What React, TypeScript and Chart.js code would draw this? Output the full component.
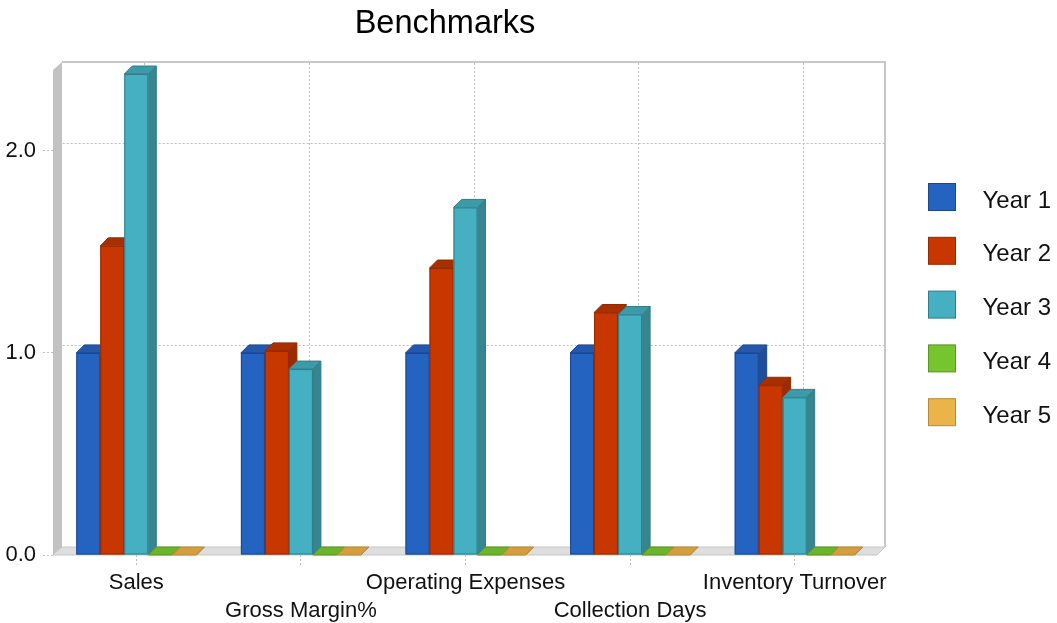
import React, { useEffect, useRef } from 'react';
import { Chart, registerables } from 'chart.js';

Chart.register(...registerables);

const chartTitle = 'Benchmarks';
const categories = ['Sales', 'Gross Margin%', 'Operating Expenses', 'Collection Days', 'Inventory Turnover'];
const seriesNames = ['Year 1', 'Year 2', 'Year 3', 'Year 4', 'Year 5'];
const year1 = [1.0, 1.0, 1.0, 1.0, 1.0];
const year2 = [1.53, 1.01, 1.42, 1.2, 0.84];
const year3 = [2.38, 0.92, 1.72, 1.19, 0.78];
const year4 = [0, 0, 0, 0, 0];
const year5 = [0, 0, 0, 0, 0];
const yTickValues = [0, 1, 2];
const yMax = 2.4;

const seriesValues = [year1, year2, year3, year4, year5];

const palette = [
  { front: '#2563c0', top: '#2358ad', side: '#1e4d99', border: '#1b4690' },
  { front: '#c83700', top: '#a83000', side: '#9c2c00', border: '#932a00' },
  { front: '#45b0c2', top: '#3d9ba9', side: '#368590', border: '#2f7d88' },
  { front: '#76c42e', top: '#6ab52a', side: '#5a9a20', border: '#5a9520' },
  { front: '#ebb44b', top: '#d49d3e', side: '#b8893a', border: '#b88a35' },
];

const FONT = '"Liberation Sans", Arial, Helvetica, sans-serif';
const DEPTH = 8;

function poly(ctx: CanvasRenderingContext2D, pts: number[][]) {
  ctx.beginPath();
  ctx.moveTo(pts[0][0], pts[0][1]);
  for (let i = 1; i < pts.length; i++) ctx.lineTo(pts[i][0], pts[i][1]);
  ctx.closePath();
}

const threeDPlugin = {
  id: 'threeD',
  beforeDatasetDraw() {
    return false;
  },
  beforeDatasetsDraw(chart: any) {
    const { ctx, chartArea: a, scales } = chart;
    const xs = scales.x;
    const ys = scales.y;
    const d = DEPTH;
    ctx.save();
    // left wall
    ctx.fillStyle = '#c2c2c2';
    poly(ctx, [[a.left - 1, a.bottom], [a.left - 1, a.top], [a.left + d, a.top - d], [a.left + d, a.bottom - d]]);
    ctx.fill();
    // floor
    ctx.fillStyle = '#dedede';
    ctx.strokeStyle = '#c6c6c6';
    ctx.lineWidth = 1;
    poly(ctx, [[a.left - 1, a.bottom], [a.right, a.bottom], [a.right + d, a.bottom - d], [a.left + d, a.bottom - d]]);
    ctx.fill();
    ctx.stroke();
    // back wall edges
    ctx.strokeStyle = '#c8c8c8';
    ctx.lineWidth = 2;
    ctx.beginPath();
    ctx.moveTo(a.left + d, a.top - d);
    ctx.lineTo(a.right + d, a.top - d);
    ctx.lineTo(a.right + d, a.bottom - d);
    ctx.stroke();
    // dotted grid
    ctx.strokeStyle = '#bdbdbd';
    ctx.lineWidth = 1;
    ctx.setLineDash([2, 2]);
    yTickValues.forEach((v) => {
      if (v <= 0) return;
      const py = Math.round(ys.getPixelForValue(v)) + 0.5;
      ctx.beginPath();
      ctx.moveTo(a.left, py);
      ctx.lineTo(a.left + d, py - d);
      ctx.lineTo(a.right + d, py - d);
      ctx.stroke();
    });
    categories.forEach((_, j) => {
      const px = Math.round(xs.getPixelForValue(j)) + 0.5;
      ctx.beginPath();
      ctx.moveTo(px + d, a.top - d + 1);
      ctx.lineTo(px + d, a.bottom - d);
      ctx.stroke();
    });
    ctx.restore();
  },
  afterDatasetsDraw(chart: any) {
    const { ctx } = chart;
    const d = DEPTH;
    ctx.save();
    ctx.lineWidth = 1;
    ctx.lineJoin = 'miter';
    const n = chart.data.datasets.length;
    for (let j = 0; j < categories.length; j++) {
      for (let i = 0; i < n; i++) {
        const meta = chart.getDatasetMeta(i);
        const el = meta.data[j];
        if (!el) continue;
        const p = el.getProps(['x', 'y', 'base', 'width'], true);
        const c = palette[i];
        const left = p.x - p.width / 2;
        const right = p.x + p.width / 2;
        const top = Math.min(p.y, p.base);
        const bottom = Math.max(p.y, p.base);
        ctx.strokeStyle = c.border;
        // side face
        ctx.fillStyle = c.side;
        poly(ctx, [[right, top], [right + d, top - d], [right + d, bottom - d], [right, bottom]]);
        ctx.fill();
        ctx.stroke();
        // top face
        ctx.fillStyle = c.top;
        poly(ctx, [[left, top], [left + d, top - d], [right + d, top - d], [right, top]]);
        ctx.fill();
        ctx.stroke();
        // front face
        if (bottom - top > 0.5) {
          ctx.fillStyle = c.front;
          ctx.fillRect(left, top, right - left, bottom - top);
          ctx.strokeRect(left + 0.5, top + 0.5, right - left - 1, bottom - top - 1);
        }
      }
    }
    ctx.restore();
  },
  afterDraw(chart: any) {
    const { ctx, chartArea: a } = chart;
    ctx.save();
    // title
    ctx.fillStyle = '#000';
    ctx.font = `32.5px ${FONT}`;
    ctx.textAlign = 'center';
    ctx.textBaseline = 'alphabetic';
    ctx.fillText(chartTitle, 445, 33);
    // legend
    ctx.font = `24px ${FONT}`;
    ctx.textAlign = 'left';
    chart.data.datasets.forEach((ds: any, i: number) => {
      const c = palette[i];
      const bx = a.right + 51.5;
      const by = 183.5 + i * 53.8;
      ctx.fillStyle = c.front;
      ctx.fillRect(bx, by, 27, 27);
      ctx.strokeStyle = c.border;
      ctx.lineWidth = 1;
      ctx.strokeRect(bx, by, 27, 27);
      ctx.fillStyle = '#111';
      ctx.fillText(ds.label, bx + 54, by + 24);
    });
    ctx.restore();
  },
};

export default function App() {
  const ref = useRef<HTMLCanvasElement | null>(null);
  useEffect(() => {
    if (!ref.current) return;
    Chart.defaults.font.family = FONT;
    const chart = new Chart(ref.current, {
      type: 'bar',
      data: {
        labels: categories,
        datasets: seriesNames.map((name, i) => ({
          label: name,
          data: seriesValues[i],
          backgroundColor: palette[i].front,
          borderColor: palette[i].border,
          categoryPercentage: 0.729,
          barPercentage: 1,
        })),
      },
      options: {
        responsive: false,
        animation: false,
        layout: { padding: { top: 70, right: 180, left: 0, bottom: 0 } },
        plugins: {
          legend: { display: false },
          title: { display: false },
          tooltip: { enabled: false },
        },
        scales: {
          x: {
            offset: true,
            grid: {
              offset: false,
              drawOnChartArea: false,
              drawTicks: true,
              tickLength: 12,
              tickColor: '#bdbdbd',
              tickBorderDash: [2, 2],
            },
            border: { display: false },
            ticks: {
              autoSkip: false,
              maxRotation: 0,
              minRotation: 0,
              padding: 2,
              color: '#111',
              font: { size: 22, lineHeight: 1.27 },
              callback: (_v: any, idx: number) => (idx % 2 === 1 ? ['', categories[idx]] : categories[idx]),
            },
            afterFit: (scale: any) => {
              scale.height = 68;
            },
          },
          y: {
            min: 0,
            max: yMax,
            grid: {
              drawOnChartArea: false,
              drawTicks: true,
              tickLength: 11,
              tickColor: '#bdbdbd',
              tickBorderDash: [2, 2],
            },
            border: { display: false },
            ticks: {
              stepSize: 1,
              includeBounds: false,
              padding: 7,
              color: '#111',
              font: { size: 22 },
              callback: (v: any) => Number(v).toFixed(1),
            },
            afterFit: (scale: any) => {
              scale.width = 54;
            },
          },
        },
      },
      plugins: [threeDPlugin],
    });
    return () => chart.destroy();
  }, []);
  return (
    <div style={{ position: 'fixed', left: 0, top: 0, width: 1057, height: 623, background: '#fff' }}>
      <canvas ref={ref} width={1057} height={623} style={{ display: 'block' }} />
    </div>
  );
}
